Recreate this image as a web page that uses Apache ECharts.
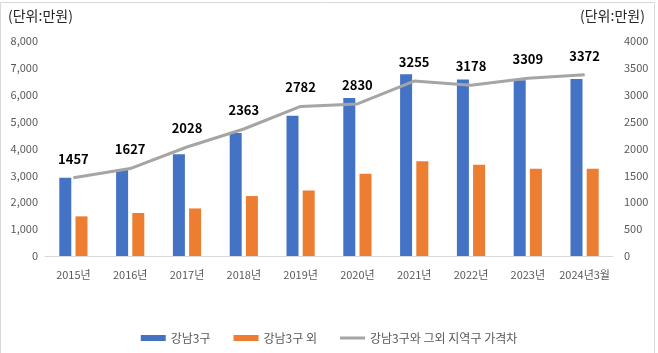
<!DOCTYPE html>
<html>
<head>
<meta charset="utf-8">
<script src="https://cdn.jsdelivr.net/npm/echarts@6/dist/echarts.min.js"></script>
<style>
  html, body { margin: 0; padding: 0; background: #fff; }
  #chart { width: 658px; height: 353px; }
</style>
</head>
<body>
<div id="chart"></div>
<script>
var years = ['2015년', '2016년', '2017년', '2018년', '2019년', '2020년', '2021년', '2022년', '2023년', '2024년3월'];
var gangnam = [2910, 3210, 3790, 4580, 5215, 5875, 6765, 6570, 6540, 6590];
var others = [1475, 1600, 1770, 2230, 2440, 3060, 3530, 3395, 3245, 3245];
var gap = [1457, 1627, 2028, 2363, 2782, 2830, 3255, 3178, 3309, 3372];

var font = "'Noto Sans CJK KR', sans-serif";

var chart = echarts.init(document.getElementById('chart'));
var opt = {
    animation: false,
    textStyle: { fontFamily: font },
    graphic: [
        {
            type: 'rect',
            shape: { x: 0.5, y: 2.5, width: 654, height: 360 },
            style: { fill: 'none', stroke: '#d9d9d9', lineWidth: 1 }
        },
        {
            type: 'text', left: 8, top: 9,
            style: { text: '(단위:만원)', fontSize: 14, fill: '#262626', fontFamily: font }
        },
        {
            type: 'text', left: 580, top: 9,
            style: { text: '(단위:만원)', fontSize: 14, fill: '#262626', fontFamily: font }
        }
    ],
    grid: { left: 45, right: 45, top: 41, bottom: 97, containLabel: false },
    legend: {
        left: 'center',
        top: 327,
        itemWidth: 25,
        itemHeight: 6,
        itemGap: 23,
        textStyle: { fontSize: 12, color: '#595959', fontFamily: font },
        data: [
            { name: '강남3구', icon: 'rect' },
            { name: '강남3구 외', icon: 'rect' },
            { name: '강남3구와 그외 지역구 가격차', icon: 'path://M0,0 L50,0 L50,6 L0,6 Z' }
        ]
    },
    xAxis: {
        type: 'category',
        data: years,
        axisLine: { lineStyle: { color: '#d9d9d9', width: 1 } },
        axisTick: { show: false },
        axisLabel: { color: '#595959', fontSize: 11, margin: 13, interval: 0 }
    },
    yAxis: [
        {
            type: 'value', min: 0, max: 8000, interval: 1000,
            splitLine: { show: false },
            axisLine: { show: false },
            axisLabel: {
                color: '#595959', fontSize: 11, margin: 7,
                formatter: function (v) { return v.toLocaleString('en-US'); }
            }
        },
        {
            type: 'value', min: 0, max: 4000, interval: 500,
            splitLine: { show: false },
            axisLine: { show: false },
            axisLabel: {
                color: '#595959', fontSize: 11, margin: 11, align: 'left',
                formatter: function (v) { return String(v); }
            }
        }
    ],
    series: [
        {
            name: '강남3구', type: 'bar', data: gangnam, yAxisIndex: 0,
            barWidth: 12, barGap: '35%',
            itemStyle: { color: '#4472C4' }
        },
        {
            name: '강남3구 외', type: 'bar', data: others, yAxisIndex: 0,
            barWidth: 12, barGap: '35%',
            itemStyle: { color: '#ED7D31' }
        },
        {
            name: '강남3구와 그외 지역구 가격차', type: 'line', data: gap, yAxisIndex: 1,
            symbol: 'circle', symbolSize: 1,
            lineStyle: { color: '#A5A5A5', width: 3 },
            itemStyle: { color: '#A5A5A5' },
            label: {
                show: true, position: 'top', distance: 12,
                fontSize: 13, fontWeight: 'bold', color: '#000'
            }
        }
    ]
};
chart.setOption(opt);
</script>
</body>
</html>
